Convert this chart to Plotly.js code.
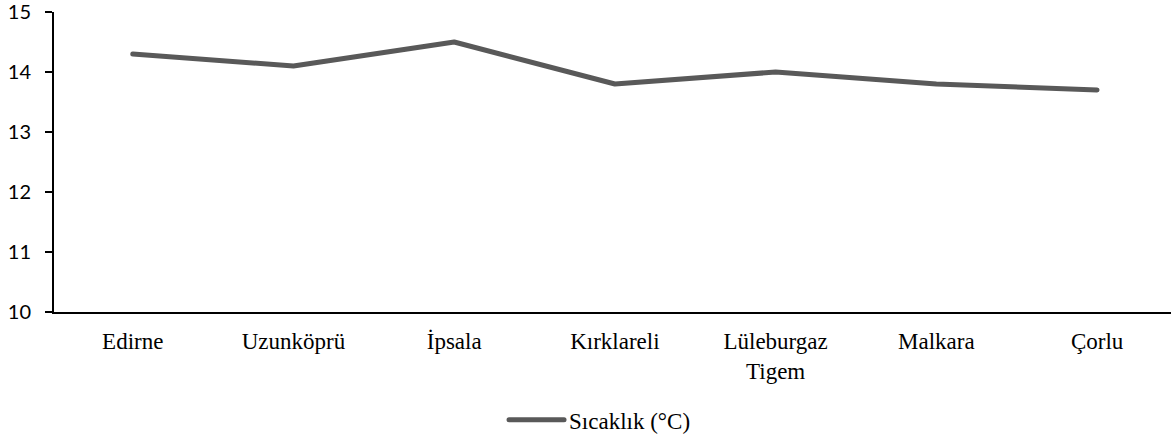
<!DOCTYPE html>
<html>
<head>
<meta charset="utf-8">
<script src="https://cdn.plot.ly/plotly-3.0.1.min.js"></script>
<style>
html,body{margin:0;padding:0;background:#fff;}
#chart{width:1171px;height:441px;}
.scatterlayer .js-line, .legendlines path{stroke-linecap:round !important;stroke-linejoin:round !important;}
</style>
</head>
<body>
<div id="chart"></div>
<script>
const categories = ["Edirne", "Uzunköprü", "İpsala", "Kırklareli", "Lüleburgaz<br>Tigem", "Malkara", "Çorlu"];
const temperature = [14.3, 14.1, 14.5, 13.8, 14.0, 13.8, 13.7];
const seriesName = "Sıcaklık (°C)";
const yTicks = [10, 11, 12, 13, 14, 15];

const trace = {
  x: categories,
  y: temperature,
  type: "scatter",
  mode: "lines",
  name: seriesName,
  line: {color: "#595959", width: 5},
  showlegend: true
};

const layout = {
  width: 1171,
  height: 441,
  margin: {l: 54, r: 0, t: 12, b: 129},
  paper_bgcolor: "#ffffff",
  plot_bgcolor: "#ffffff",
  showlegend: true,
  xaxis: {
    type: "category",
    range: [-0.49, 6.46],
    showgrid: false,
    zeroline: false,
    showline: true,
    linecolor: "#000000",
    linewidth: 2,
    ticks: "",
    ticklabelstandoff: 7,
    tickfont: {family: "Liberation Serif, Times New Roman, serif", size: 23, color: "#000000"}
  },
  yaxis: {
    range: [10, 15],
    tickvals: yTicks,
    ticktext: yTicks.map(String),
    showgrid: false,
    zeroline: false,
    showline: true,
    linecolor: "#000000",
    linewidth: 2,
    ticks: "outside",
    ticklen: 7,
    tickwidth: 2,
    tickcolor: "#000000",
    ticklabelstandoff: 10,
    ticklabeloverflow: "allow",
    tickfont: {family: "Lato, Carlito, Calibri, sans-serif", size: 20, color: "#000000"}
  },
  legend: {
    orientation: "h",
    xref: "container",
    yref: "container",
    x: 0.512,
    xanchor: "center",
    y: 0.048,
    yanchor: "middle",
    font: {family: "Liberation Serif, Times New Roman, serif", size: 23, color: "#000000"},
    itemwidth: 55
  }
};

Plotly.newPlot("chart", [trace], layout, {displayModeBar: false, staticPlot: true}).then(function (gd) {
  gd.querySelectorAll(".legendlines path").forEach(function (p) {
    p.setAttribute("d", "M5,0h55");
  });
});
</script>
</body>
</html>
